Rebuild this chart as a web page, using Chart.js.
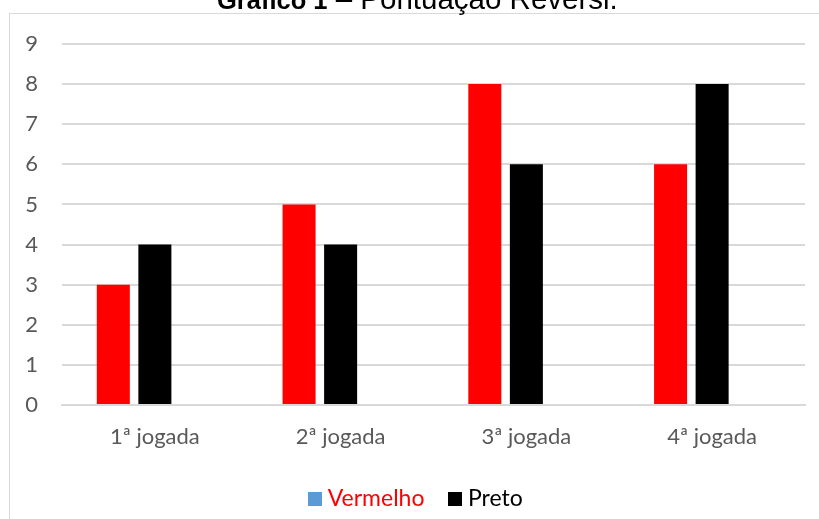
<!DOCTYPE html>
<html>
<head>
<meta charset="utf-8">
<script src="https://cdn.jsdelivr.net/npm/chart.js@4.4.0/dist/chart.umd.min.js"></script>
<style>
  html, body { margin: 0; padding: 0; background: #ffffff; overflow: hidden; }
  #wrap { position: relative; width: 819px; height: 519px; }
  #frame { position: absolute; left: 9px; top: 13px; width: 830px; height: 600px; border: 1px solid #d9d9d9; box-sizing: border-box; }
  canvas { position: absolute; left: 0; top: 0; }
</style>
</head>
<body>
<div id="wrap">
  <div id="frame"></div>
  <canvas id="c" width="819" height="519"></canvas>
</div>
<script>
const categories = ['1ª jogada', '2ª jogada', '3ª jogada', '4ª jogada'];
const vermelho = [3, 5, 8, 6];
const preto = [4, 4, 6, 8];
const vazio = [null, null, null, null];
const yTicks = [0, 1, 2, 3, 4, 5, 6, 7, 8, 9];
const titleBold = 'Gráfico 1';
const titleRest = ' – Pontuação Reversi.';

function swatch(color) {
  const c = document.createElement('canvas');
  c.width = 14; c.height = 14;
  const g = c.getContext('2d');
  g.fillStyle = color;
  g.fillRect(0, 0, 14, 14);
  return c;
}
const swBlue = swatch('#5B9BD5');
const swBlack = swatch('#000000');

const titlePlugin = {
  id: 'titleText',
  afterLayout(chart) {
    if (chart.legend) {
      chart.legend.left += 11; chart.legend.right += 11;
      chart.legend.top += 1.5; chart.legend.bottom += 1.5;
    }
  },
  afterDraw(chart) {
    const ctx = chart.ctx;
    ctx.save();
    ctx.textBaseline = 'alphabetic';
    ctx.textAlign = 'left';
    ctx.fillStyle = '#000000';
    ctx.font = 'bold 25.5px "Liberation Sans", Arial, sans-serif';
    const x0 = 217;
    const y0 = 9;
    ctx.fillText(titleBold, x0, y0);
    const w = ctx.measureText(titleBold).width;
    ctx.font = '29.5px "Liberation Sans", Arial, sans-serif';
    ctx.fillText(titleRest, x0 + w, y0);
    ctx.restore();
  }
};

const tickFont = { family: 'Lato, "Open Sans", sans-serif', size: 22 };
const legendFont = { family: 'Lato, "Open Sans", sans-serif', size: 23 };

new Chart(document.getElementById('c'), {
  type: 'bar',
  data: {
    labels: categories,
    datasets: [
      { label: 'Vermelho', data: vermelho, backgroundColor: '#FF0000' },
      { label: 'Preto', data: preto, backgroundColor: '#000000' },
      { label: '', data: vazio, backgroundColor: '#5B9BD5' }
    ]
  },
  options: {
    responsive: false,
    animation: false,
    devicePixelRatio: 1,
    categoryPercentage: 0.671,
    barPercentage: 0.795,
    layout: { padding: { left: 10, right: 14, top: 44, bottom: 0 } },
    scales: {
      x: {
        grid: { display: false, drawTicks: false },
        border: { display: true, color: '#d9d9d9', width: 2 },
        ticks: { color: '#595959', font: tickFont, padding: 19 },
        afterFit(s) { s.height = 51; }
      },
      y: {
        min: 0, max: 9,
        afterBuildTicks(s) { s.ticks = yTicks.map(v => ({ value: v })); },
        grid: { color: '#d9d9d9', lineWidth: 2, drawTicks: false },
        border: { display: false },
        ticks: { color: '#595959', font: tickFont, padding: 24 },
        afterFit(s) { s.width = 52; }
      }
    },
    plugins: {
      title: { display: false },
      tooltip: { enabled: false },
      legend: {
        position: 'bottom',
        labels: {
          usePointStyle: true,
          pointStyleWidth: 2,
          padding: 30,
          font: legendFont,
          generateLabels() {
            return [
              { text: 'Vermelho', fontColor: '#FF0000', pointStyle: swBlue, fillStyle: '#5B9BD5', strokeStyle: 'rgba(0,0,0,0)', lineWidth: 0, hidden: false, datasetIndex: 0 },
              { text: 'Preto', fontColor: '#000000', pointStyle: swBlack, fillStyle: '#000000', strokeStyle: 'rgba(0,0,0,0)', lineWidth: 0, hidden: false, datasetIndex: 1 }
            ];
          }
        }
      }
    }
  },
  plugins: [titlePlugin]
});
</script>
</body>
</html>
